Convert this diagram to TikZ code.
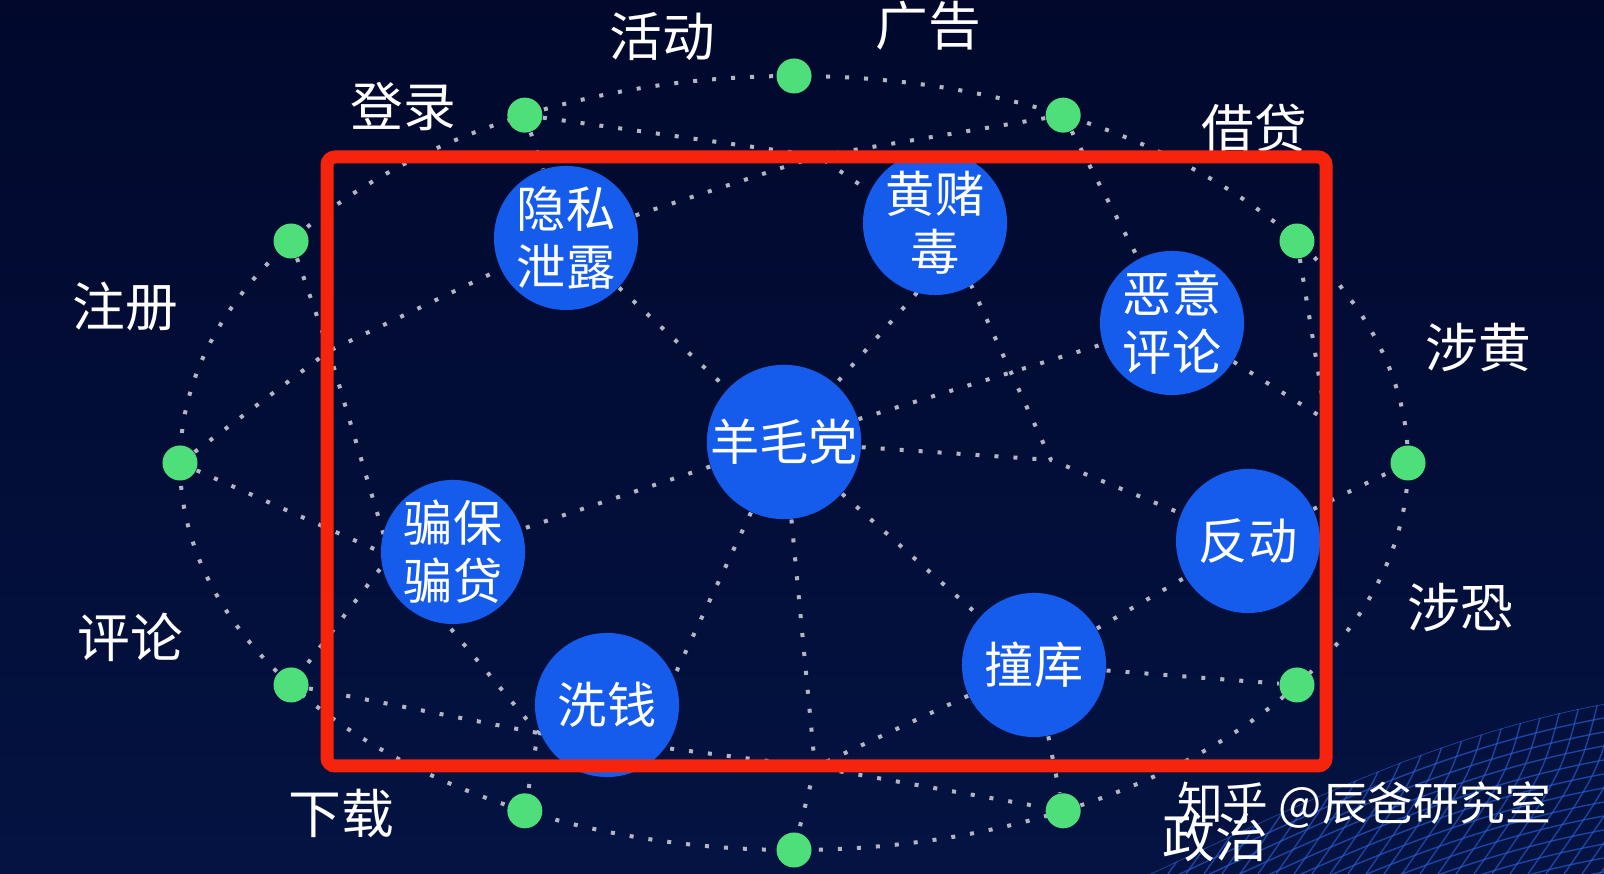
\documentclass[tikz,border=0pt]{standalone}
\usepackage{fontspec}
\newfontfamily\cjk{Noto Sans CJK SC}
\definecolor{night}{RGB}{1,8,44}
\definecolor{nightlow}{RGB}{4,19,66}
\definecolor{seamgray}{RGB}{178,182,196}
\definecolor{leaf}{RGB}{78,222,122}
\definecolor{riskblue}{RGB}{22,92,236}
\definecolor{framered}{RGB}{246,36,12}
\definecolor{meshblue}{RGB}{40,95,215}
\pgfdeclarelayer{bg}
\pgfsetlayers{bg,main}
\tikzset{
  seam/.style={seamgray, line width=0.04cm, dash pattern=on 0.04cm off 0.15cm},
  gdot/.style={circle, fill=leaf, minimum size=0.35cm, inner sep=0pt},
  risk/.style={circle, fill=riskblue, minimum size=1.44cm, inner sep=0pt,
    text=white, align=center, font=\cjk\fontsize{14pt}{16.5pt}\selectfont},
  tag/.style={text=white, inner sep=0pt, font=\cjk\fontsize{15pt}{18pt}\selectfont},
  mesh/.style={meshblue, line width=0.4pt, opacity=0.65}
}
\begin{document}
\begin{tikzpicture}[x=0.01cm, y=0.01cm]

% Canvas, sized like the screenshot
\useasboundingbox (0,0) rectangle (1604,874);
\begin{pgfonlayer}{bg}
\shade[top color=night, bottom color=nightlow] (0,0) rectangle (1604,874);
% Wire mesh in the lower right corner
\begin{scope}
  \clip (1150,0) .. controls (1300,70) and (1440,140) .. (1604,170) -- (1604,0) -- cycle;
  \foreach \d in {0,14,...,196}
    \draw[mesh] (1150,-\d) .. controls (1300,70-\d) and (1440,140-\d) .. (1604,170-\d);
  \foreach \x in {1150,1168,...,1700}
    \draw[mesh] (\x,180) .. controls (\x-20,100) .. (\x-90,0);
\end{scope}
\end{pgfonlayer}

% Center and size of the ring
\def\a{614}
\def\b{387}
\coordinate (O) at (794,411);

% Twelve green points on the ring
\node[gdot] (D0) at ([shift={(0:{\a} and {\b})}]O) {};
\node[gdot] (D1) at ([shift={(35:{\a} and {\b})}]O) {};
\node[gdot] (D2) at ([shift={(64:{\a} and {\b})}]O) {};
\node[gdot] (D3) at ([shift={(90:{\a} and {\b})}]O) {};
\node[gdot] (D4) at ([shift={(116:{\a} and {\b})}]O) {};
\node[gdot] (D5) at ([shift={(145:{\a} and {\b})}]O) {};
\node[gdot] (D6) at ([shift={(180:{\a} and {\b})}]O) {};
\node[gdot] (D7) at ([shift={(215:{\a} and {\b})}]O) {};
\node[gdot] (D8) at ([shift={(244:{\a} and {\b})}]O) {};
\node[gdot] (D9) at ([shift={(270:{\a} and {\b})}]O) {};
\node[gdot] (D10) at ([shift={(296:{\a} and {\b})}]O) {};
\node[gdot] (D11) at ([shift={(325:{\a} and {\b})}]O) {};

% The risk circles
\node[risk] (Leak) at (566,636) {隐私\\泄露};
\node[risk] (Porn) at (935,651) {黄赌\\毒};
\node[risk] (Troll) at (1172,551) {恶意\\评论};
\node[risk] (Wool) at (784,432) {羊毛党};
\node[risk] (Fraud) at (453,322) {骗保\\骗贷};
\node[risk] (Laund) at (607,169) {洗钱};
\node[risk] (React) at (1248,333) {反动};
\node[risk] (Stuff) at (1034,209) {撞库};

% Knots of the web that hide under circles or the frame
\coordinate (K1) at (818,718);
\coordinate (K2) at (955,624);
\coordinate (K3) at (1051,414);
\coordinate (K4) at (1326,454);
\coordinate (K5) at (329,523);
\coordinate (K6) at (390,318);
\coordinate (K7) at (538,141);
\coordinate (K8) at (642,129);
\coordinate (K9) at (815,107);

% Dotted ring and web, below everything else
\begin{pgfonlayer}{bg}
\draw[seam] (O) ellipse [x radius=\a, y radius=\b];
\draw[seam] (D4) -- (Leak);
\draw[seam] (D4) -- (K1) -- (K2);
\draw[seam] (D2) -- (K1) -- (Leak);
\draw[seam] (D2) -- (Troll);
\draw[seam] (D6) -- (K5) -- (Leak);
\draw[seam] (D5) -- (K5) -- (K6);
\draw[seam] (D6) -- (K6) -- (D7);
\draw[seam] (K6) -- (K7);
\draw[seam] (D7) -- (K7) -- (D8);
\draw[seam] (K7) -- (K8) -- (K9) -- (D10);
\draw[seam] (K9) -- (D9);
\draw[seam] (Stuff) -- (K9);
\draw[seam] (Wool) -- (K9);
\draw[seam] (Wool) -- (K8);
\draw[seam] (Wool) -- (Fraud);
\draw[seam] (Leak) -- (Wool);
\draw[seam] (K2) -- (Wool);
\draw[seam] (K2) -- (K3) -- (React);
\draw[seam] (Wool) -- (K3);
\draw[seam] (Wool) -- (Troll);
\draw[seam] (Troll) -- (K4);
\draw[seam] (D1) -- (K4);
\draw[seam] (React) -- (D0);
\draw[seam] (Stuff) -- (React);
\draw[seam] (Wool) -- (Stuff);
\draw[seam] (Stuff) -- (D11);
\draw[seam] (Stuff) -- (D10);
\end{pgfonlayer}

% Labels round the ring
\node[tag] (tActive) at (662,837) {活动};
\node[tag] (tAds) at (928,848) {广告};
\node[tag] (tLogin) at (403,767) {登录};
\node[tag] (tLoan) at (1254,746) {借贷};
\node[tag] (tSignup) at (125,567) {注册};
\node[tag] (tPorn) at (1478,526) {涉黄};
\node[tag] (tReview) at (130,237) {评论};
\node[tag] (tTerror) at (1460,266) {涉恐};
\node[tag] (tDown) at (341,61) {下载};
\node[tag] (tPolit) at (1215,37) {政治};

% Red frame over the inner circles
\draw[framered, line width=0.13cm, rounded corners=0.08cm] (327,108) rectangle (1326,717);

% Watermark
\node[tag, font=\cjk\fontsize{13pt}{15pt}\selectfont] (sign) at (1364,69) {知乎 @辰爸研究室};
\end{tikzpicture}
\end{document}
